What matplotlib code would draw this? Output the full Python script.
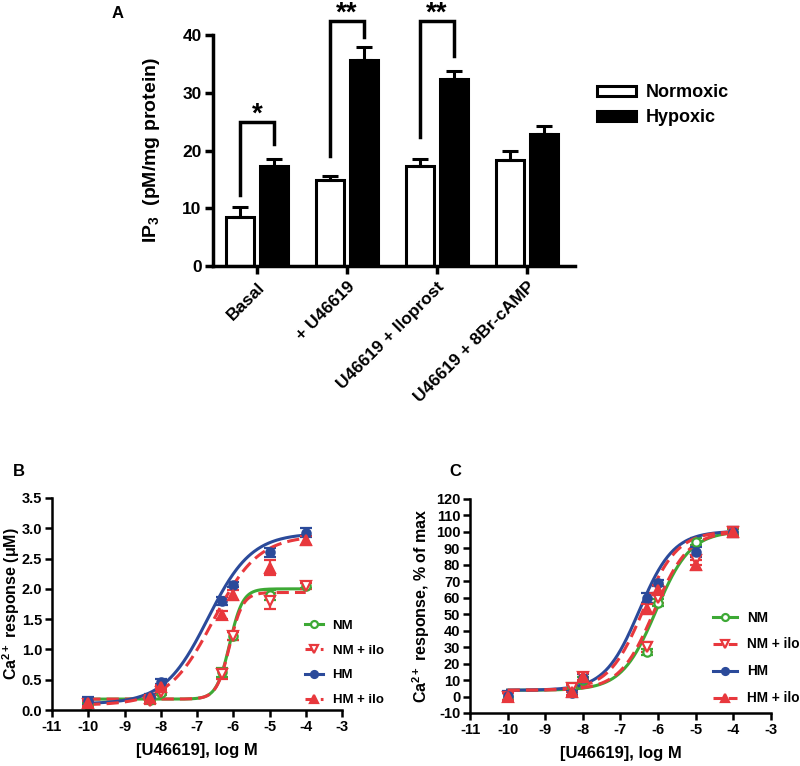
import numpy as np
import matplotlib
matplotlib.use("Agg")
import matplotlib.pyplot as plt
from matplotlib.patches import Patch
from matplotlib.lines import Line2D

plt.rcParams['font.family'] = ['Liberation Sans', 'DejaVu Sans']
plt.rcParams['font.weight'] = 'bold'
plt.rcParams['axes.labelweight'] = 'bold'
plt.rcParams['axes.unicode_minus'] = False
plt.rcParams['mathtext.fontset'] = 'custom'
plt.rcParams['mathtext.rm'] = 'Liberation Sans:bold'
plt.rcParams['mathtext.it'] = 'Liberation Sans:bold'
plt.rcParams['mathtext.bf'] = 'Liberation Sans:bold'

# ---- panel A data
groups = ["Basal", "+ U46619", "U46619 + Iloprost", "U46619 + 8Br-cAMP"]
normoxic = [8.5, 14.9, 17.3, 18.3]
normoxic_err = [1.7, 0.7, 1.2, 1.65]
hypoxic = [17.3, 35.6, 32.4, 22.9]
hypoxic_err = [1.2, 2.3, 1.4, 1.4]
# bracket: group, left leg bottom, top, right leg bottom, stars
brackets = [(0, 12.3, 24.9, 21.1, "*"),
            (1, 19.0, 42.4, 39.7, "**"),
            (2, 22.4, 42.4, 36.4, "**")]

# ---- panels B/C data
conc = [-10, -8.3, -8, -6.3, -6, -5, -4]
series = ["NM", "NM + ilo", "HM", "HM + ilo"]
b_vals = {
    "NM":       [0.08, 0.17, 0.28, 0.62, 1.22, 1.90, 2.05],
    "NM + ilo": [0.10, 0.15, 0.30, 0.60, 1.22, 1.80, 2.05],
    "HM":       [0.15, 0.22, 0.47, 1.80, 2.07, 2.60, 2.93],
    "HM + ilo": [0.12, 0.20, 0.38, 1.57, 1.90, 2.35, 2.80],
}
b_err = {
    "NM":       [0.04, 0.04, 0.04, 0.07, 0.06, 0.08, 0.04],
    "NM + ilo": [0.05, 0.05, 0.04, 0.08, 0.07, 0.13, 0.05],
    "HM":       [0.07, 0.04, 0.04, 0.07, 0.04, 0.08, 0.08],
    "HM + ilo": [0.05, 0.04, 0.04, 0.06, 0.08, 0.12, 0.07],
}
# fitted 4PL: bottom, top, logEC50, hill
b_fit = {
    "NM":       (0.18, 2.00, -6.1, 2.4),
    "NM + ilo": (0.18, 1.94, -6.1, 2.4),
    "HM":       (0.10, 2.92, -6.7, 0.72),
    "HM + ilo": (0.08, 2.88, -6.55, 0.70),
}
c_vals = {
    "NM":       [0, 6, 10, 27, 57, 94, 100],
    "NM + ilo": [0, 5, 12, 30, 60, 83, 100],
    "HM":       [0.5, 2, 11.5, 60, 69, 88, 100],
    "HM + ilo": [0, 3, 12, 53, 65, 80, 100],
}
c_err = {
    "NM":       [2, 2, 2, 2, 2, 2, 2],
    "NM + ilo": [2, 2, 2, 3, 3, 3, 3],
    "HM":       [3, 2, 2, 3, 2, 3, 3],
    "HM + ilo": [2, 2, 2, 3, 3, 3, 3],
}
c_fit = {
    "NM":       (3.8, 100.5, -6.05, 0.95),
    "NM + ilo": (3.8, 100.5, -6.1, 0.95),
    "HM":       (3.8, 100.5, -6.5, 0.95),
    "HM + ilo": (3.8, 100.5, -6.4, 0.95),
}

green = "#3da935"
red = "#e8383d"
blue = "#2b4a9a"
style = {
    "NM":       dict(color=green, ls="-", marker="o", mfc="white", ms=6),
    "NM + ilo": dict(color=red, ls="--", marker="v", mfc="white", ms=7),
    "HM":       dict(color=blue, ls="-", marker="o", mfc=blue, ms=6),
    "HM + ilo": dict(color=red, ls="--", marker="^", mfc=red, ms=7),
}

fig = plt.figure(figsize=(8, 7.66), dpi=100)

# ================= panel A
ax = fig.add_axes([0.266, 0.6527, 0.4525, 0.3016])
x = np.arange(len(groups))
w = 0.31
off = 0.19
zeros = [0] * len(groups)
ax.bar(x - off, normoxic, w, color="white", edgecolor="black", linewidth=2.2,
       yerr=[zeros, normoxic_err], error_kw=dict(lw=2.2, capsize=6, capthick=2.2, ecolor="black"))
ax.bar(x + off, hypoxic, w, color="black", edgecolor="black", linewidth=2.2,
       yerr=[zeros, hypoxic_err], error_kw=dict(lw=2.2, capsize=6, capthick=2.2, ecolor="black"))
for g, lo_l, top, lo_r, st in brackets:
    ax.plot([g - off, g - off, g + off, g + off], [lo_l, top, top, lo_r],
            color="black", lw=2.5, clip_on=False, solid_joinstyle="miter")
    ax.text(g, top + 0.1, st, ha="center", va="baseline", fontsize=20, clip_on=False)
ax.set_xlim(-0.49, 3.53)
ax.set_ylim(0, 40)
ax.set_yticks([0, 10, 20, 30, 40])
ax.set_xticks(x)
ax.set_xticklabels(groups, rotation=45, ha="right", rotation_mode="anchor", fontsize=12.5)
ax.tick_params(axis="y", labelsize=12.5, width=2.5, length=6, pad=2)
ax.tick_params(axis="x", width=2.5, length=6)
for s in ["top", "right"]:
    ax.spines[s].set_visible(False)
for s in ["left", "bottom"]:
    ax.spines[s].set_linewidth(2.5)
ax.set_ylabel(r"IP$_3$  (pM/mg protein)", fontsize=14)
ax.yaxis.set_label_coords(-0.14, 0.5)
fig.text(118 / 800, 1 - 13 / 766, "A", fontsize=12, ha="center", va="center")
handles = [Patch(facecolor="white", edgecolor="black", linewidth=2.2, label="Normoxic"),
           Patch(facecolor="black", edgecolor="black", linewidth=2.2, label="Hypoxic")]
fig.legend(handles=handles, loc="upper left", bbox_to_anchor=(0.746, 0.890), frameon=False,
           fontsize=13, handlelength=2.15, handleheight=0.45, labelspacing=0.45,
           borderpad=0, borderaxespad=0, handletextpad=0.55)


def logistic(xs, p):
    bottom, top, ec, hill = p
    return bottom + (top - bottom) / (1 + 10 ** ((ec - xs) * hill))


def dose_panel(rect, vals, errs, fits, ylim, yticks, ylabel, label_x, leg_anchor, leg_fs,
               leg_hl, leg_sp, letter_pos, letter):
    ax = fig.add_axes(rect)
    xs = np.linspace(-10, -4, 300)
    for name in series:
        st = style[name]
        line, = ax.plot(xs, logistic(xs, fits[name]), color=st["color"], ls=st["ls"], lw=2.2)
        if st["ls"] == "--":
            line.set_dashes((4, 2))
        ax.errorbar(conc, vals[name], yerr=errs[name], fmt=st["marker"], color=st["color"],
                    mfc=st["mfc"], mec=st["color"], mew=1.6, ms=st["ms"],
                    ecolor=st["color"], elinewidth=1.6, capsize=4, capthick=1.6)
    ax.set_xlim(-11, -3)
    ax.set_xticks(range(-11, -2))
    ax.set_ylim(*ylim)
    ax.set_yticks(yticks)
    for s in ["top", "right"]:
        ax.spines[s].set_visible(False)
    for s in ["left", "bottom"]:
        ax.spines[s].set_linewidth(1.8)
    ax.tick_params(labelsize=10.5, width=1.8, length=5, pad=2)
    ax.set_xlabel("[U46619], log M", fontsize=12, labelpad=7)
    ax.set_ylabel(ylabel, fontsize=11.5)
    ax.yaxis.set_label_coords(label_x, 0.5)
    hs = []
    for name in series:
        st = style[name]
        h = Line2D([], [], color=st["color"], ls=st["ls"], lw=2.2, marker=st["marker"],
                   mfc=st["mfc"], mec=st["color"], mew=1.6, ms=st["ms"] - 1, label=name)
        if st["ls"] == "--":
            h.set_dashes((3, 2))
        hs.append(h)
    ax.legend(handles=hs, loc="upper left", bbox_to_anchor=leg_anchor, bbox_transform=fig.transFigure,
              frameon=False, fontsize=leg_fs, handlelength=leg_hl, labelspacing=leg_sp,
              borderpad=0, borderaxespad=0, handletextpad=0.7)
    fig.text(letter_pos[0], letter_pos[1], letter, fontsize=12, ha="center", va="center")
    return ax


dose_panel([0.065, 0.0731, 0.3625, 0.2768], b_vals, b_err, b_fit, (0, 3.5),
           np.arange(0, 3.6, 0.5), r"Ca$^{2+}$ response (μM)", -0.105, (0.381, 0.191), 9.5, 1.4,
           0.95, (19 / 800, 1 - 471 / 766), "B")
dose_panel([0.5875, 0.0692, 0.376, 0.2794], c_vals, c_err, c_fit, (-10, 120),
           range(-10, 121, 10), r"Ca$^{2+}$ response, % of max", -0.125, (0.891, 0.203), 9.8, 1.8,
           0.95, (455 / 800, 1 - 471 / 766), "C")

fig.savefig("out.png", dpi=100)
